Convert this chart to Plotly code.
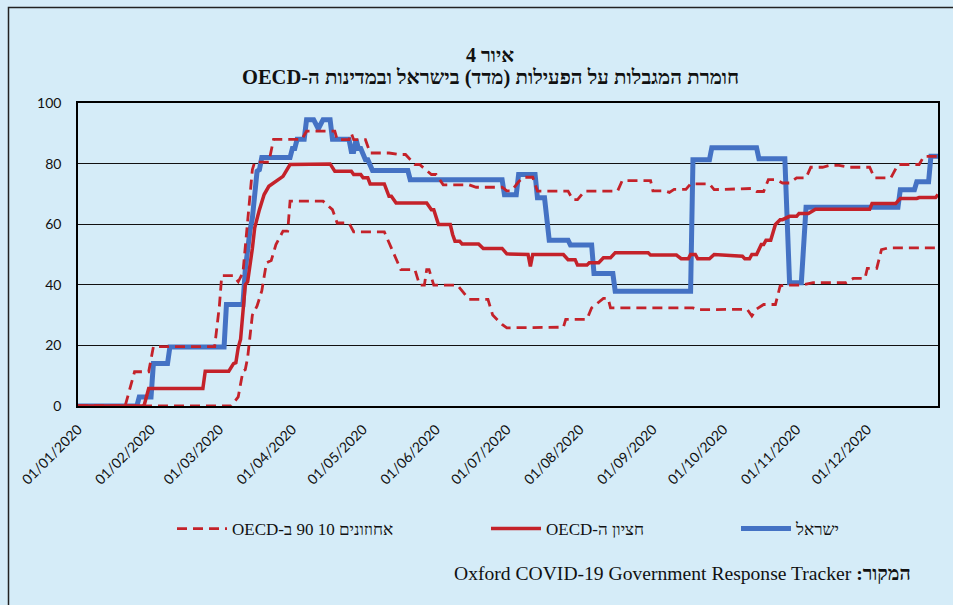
import plotly.graph_objects as go

# ---------------- data ----------------
israel_dates = ["2020-01-01","2020-01-26","2020-01-27","2020-02-01","2020-02-02","2020-02-08","2020-02-09",
    "2020-03-03","2020-03-04","2020-03-11","2020-03-12","2020-03-13","2020-03-14","2020-03-15","2020-03-16",
    "2020-03-17","2020-03-18","2020-03-19","2020-03-31","2020-04-01","2020-04-02","2020-04-03","2020-04-06",
    "2020-04-07","2020-04-10","2020-04-12","2020-04-14","2020-04-17","2020-04-18","2020-04-25","2020-04-26",
    "2020-04-27","2020-04-28","2020-04-29","2020-04-30","2020-05-02","2020-05-03","2020-05-05","2020-05-20",
    "2020-05-21","2020-06-29","2020-06-30","2020-07-05","2020-07-06","2020-07-13","2020-07-14","2020-07-17",
    "2020-07-18","2020-07-19","2020-07-27","2020-07-28","2020-08-06","2020-08-07","2020-08-15","2020-08-16",
    "2020-09-17","2020-09-18","2020-09-25","2020-09-26","2020-10-15","2020-10-16","2020-10-27","2020-10-29",
    "2020-11-03","2020-11-05","2020-12-14","2020-12-15","2020-12-21","2020-12-22","2020-12-27","2020-12-28",
    "2020-12-31"]
israel_values = [0,0,3,3,14,14,19.5,
    19.5,33.5,33.5,45,53,58,62,70,
    77.5,78,82,82,85,85,88,88,
    94.5,94.5,91.5,94.5,94.5,88,88,84,
    84,88,85,85,81.3,81.3,77.7,77.7,
    74.7,74.7,69.7,69.7,76.4,76.4,68.7,68.7,
    62,54.7,54.7,53.1,53.1,43.7,43.7,37.9,
    37.9,81.3,81.3,85.2,85.2,81.6,81.6,40.7,
    40.7,65.6,65.6,71.4,71.4,74,74,82.4,
    82.4]

median_dates = ["2020-01-01","2020-01-29","2020-01-31","2020-02-23","2020-02-24","2020-03-05","2020-03-07",
    "2020-03-08","2020-03-09","2020-03-10","2020-03-12","2020-03-13","2020-03-15","2020-03-16","2020-03-18",
    "2020-03-20","2020-03-22","2020-03-25","2020-03-28","2020-03-31","2020-04-17","2020-04-19","2020-04-26",
    "2020-04-27","2020-04-30","2020-05-01","2020-05-03","2020-05-04","2020-05-10","2020-05-12","2020-05-13",
    "2020-05-15","2020-05-28","2020-05-30","2020-05-31","2020-06-02","2020-06-07","2020-06-08","2020-06-09",
    "2020-06-11","2020-06-12","2020-06-19","2020-06-21","2020-06-29","2020-07-01","2020-07-10","2020-07-11",
    "2020-07-12","2020-07-25","2020-07-27","2020-07-30","2020-07-31","2020-08-04","2020-08-05","2020-08-09",
    "2020-08-11","2020-08-14","2020-08-16","2020-08-30","2020-08-31","2020-09-11","2020-09-13","2020-09-16",
    "2020-09-17","2020-09-19","2020-09-20","2020-09-25","2020-09-27","2020-10-09","2020-10-10","2020-10-12",
    "2020-10-13","2020-10-15","2020-10-17","2020-10-18","2020-10-19","2020-10-21","2020-10-23","2020-10-25",
    "2020-10-26","2020-10-29","2020-11-01","2020-11-02","2020-11-06","2020-11-09","2020-12-02","2020-12-03",
    "2020-12-13","2020-12-15","2020-12-22","2020-12-23","2020-12-30","2020-12-31"]
median_values = [0,0,5.8,5.8,11.5,11.5,14,
    14.3,19.3,22,40,41,52,58.8,64.8,
    69.8,72.5,74.2,75.8,79.7,79.9,77.5,77.5,
    76.4,76.4,75.3,75.3,73.3,73.3,69.2,69.2,
    67,67,64.8,64.8,59.9,59.9,56.6,54.4,
    54.4,53.5,53.5,52,52,50.2,50,46.1,
    50,50,48.3,48.3,46.5,46.5,47.3,47.3,
    48.9,48.9,50.6,50.6,49.8,49.8,48.6,48.6,
    50,50,48.6,48.6,50,49.4,48.6,48.6,
    50,50,53.3,53.3,54.7,54.7,59.9,61.5,
    61.5,62.6,62.6,63.5,63.5,64.9,64.9,66.8,
    66.8,68.5,68.5,68.8,68.8,69.8]

p90_dates = ["2020-01-01","2020-01-21","2020-01-25","2020-01-31","2020-02-02","2020-02-28","2020-03-01",
    "2020-03-02","2020-03-07","2020-03-09","2020-03-11","2020-03-13","2020-03-15","2020-03-16","2020-03-22",
    "2020-03-24","2020-04-05","2020-04-07","2020-04-19","2020-04-20","2020-04-25","2020-04-26","2020-04-27",
    "2020-05-02","2020-05-04","2020-05-12","2020-05-16","2020-05-19","2020-05-23","2020-05-25","2020-05-30",
    "2020-06-01","2020-06-04","2020-06-15","2020-06-18","2020-06-29","2020-07-01","2020-07-03","2020-07-06",
    "2020-07-08","2020-07-12","2020-07-14","2020-07-27","2020-07-29","2020-07-31","2020-08-03","2020-08-17",
    "2020-08-19","2020-08-31","2020-09-01","2020-09-06","2020-09-08","2020-09-10","2020-09-15","2020-09-17",
    "2020-09-25","2020-09-27","2020-10-13","2020-10-15","2020-10-18","2020-10-20","2020-10-23","2020-10-26",
    "2020-10-29","2020-11-01","2020-11-05","2020-11-07","2020-11-12","2020-11-15","2020-11-19","2020-11-23",
    "2020-12-02","2020-12-04","2020-12-11","2020-12-14","2020-12-23","2020-12-25","2020-12-31"]
p90_values = [0,0,11.3,11.3,19.6,19.6,33,
    43,43,41,44,60,78,80.5,80.5,
    88,88,90.7,90.7,87.9,87.9,90,87.9,
    87.9,83.5,83.5,83,83,79.7,79.7,76.4,
    76.4,73,73,72.2,72.2,71,71,74,
    75.5,75.5,70.9,70.9,68.1,68.1,70.9,70.9,
    74.4,74.4,71,71,70.5,71.5,71.5,73.3,
    73.3,71.4,71.8,70.8,70.8,74.7,74.7,73.6,
    73.6,75.3,75.3,78.8,78.8,79.4,79.4,78.8,
    78.8,75.3,75.3,79.7,79.7,82.4,82.4]

p10_dates = ["2020-01-01","2020-03-06","2020-03-09","2020-03-11","2020-03-12","2020-03-13","2020-03-15",
    "2020-03-17","2020-03-19","2020-03-21","2020-03-23","2020-03-25","2020-03-28","2020-03-30","2020-03-31",
    "2020-04-14","2020-04-18","2020-04-20","2020-04-25","2020-04-27","2020-05-10","2020-05-17","2020-05-23",
    "2020-05-25","2020-05-27","2020-05-28","2020-05-29","2020-05-31","2020-06-10","2020-06-15","2020-06-23",
    "2020-06-25","2020-06-29","2020-07-01","2020-07-25","2020-07-26","2020-08-04","2020-08-06","2020-08-11",
    "2020-08-13","2020-08-14","2020-09-18","2020-09-20","2020-09-24","2020-09-26","2020-10-11","2020-10-13",
    "2020-10-15","2020-10-18","2020-10-23","2020-10-25","2020-10-27","2020-11-03","2020-11-08","2020-11-22",
    "2020-11-25","2020-11-30","2020-12-01","2020-12-05","2020-12-07","2020-12-10","2020-12-31"]
p10_values = [0,0,3,11.5,12,16,30,
    33,38,47.3,48,53.3,57.7,57.7,67.6,
    67.6,64.8,60.4,60.4,57.5,57.5,45,45,
    39.9,39.9,45,45,39.9,39.9,35.2,35.2,
    30,26.9,25.8,26,28.6,28.6,32.4,35.5,
    35.5,32.4,32.4,31.8,31.8,32,31.9,29.7,
    32,33.5,33.5,39.6,39.9,39.9,40.7,40.7,
    42.1,42.1,45.4,45.4,51.6,52.2,52.2]

y_ticks = [0, 20, 40, 60, 80, 100]

title_line1 = "איור 4"
title_line2 = "חומרת המגבלות על הפעילות (מדד) בישראל ובמדינות ה-OECD"
name_israel = "ישראל"
name_median = "חציון ה-OECD"
name_pct = "אחוזונים 10 90 ב-OECD"
source_label = "המקור:"
source_text = "Oxford COVID-19 Government Response Tracker"

RLE, PDF = "\u202B", "\u202C"
def rtl(s):
    return RLE + s + PDF

BLUE = "#4472C4"
RED = "#C4222A"
BG = "#D5ECF8"

fig = go.Figure()
fig.add_trace(go.Scatter(x=israel_dates, y=israel_values, mode="lines", name=rtl(name_israel),
                         line=dict(color=BLUE, width=5), legend="legend3", cliponaxis=False))
fig.add_trace(go.Scatter(x=median_dates, y=median_values, mode="lines", name=rtl(name_median),
                         line=dict(color=RED, width=3.5), legend="legend2", cliponaxis=False))
fig.add_trace(go.Scatter(x=p10_dates, y=p10_values, mode="lines", name=rtl(name_pct),
                         line=dict(color=RED, width=2.8, dash="10px,6px"), legend="legend",
                         cliponaxis=False))
fig.add_trace(go.Scatter(x=p90_dates, y=p90_values, mode="lines", name=rtl(name_pct),
                         line=dict(color=RED, width=2.8, dash="10px,6px"), showlegend=False,
                         cliponaxis=False))

leg_font = dict(family="Liberation Serif", size=17, color="#111")
def leg(xpx):
    return dict(x=xpx / 953, xref="container", y=1 - 529 / 605, yref="container",
                xanchor="left", yanchor="middle", orientation="h", bgcolor="rgba(0,0,0,0)",
                font=leg_font, itemwidth=50, borderwidth=0)

fig.update_layout(
    width=953, height=605,
    margin=dict(l=78, r=15, t=103, b=199),
    paper_bgcolor=BG, plot_bgcolor=BG,
    showlegend=True,
    legend=leg(172), legend2=leg(486), legend3=leg(736),
    xaxis=dict(type="date", range=["2020-01-01", "2020-12-31"], tick0="2020-01-01", dtick="M1",
               tickformat="%d/%m/%Y", tickangle=-45, showgrid=False,
               tickfont=dict(family="Lato", size=14, color="#111"),
               showline=True, linecolor="#000", linewidth=1.5, mirror=True,
               ticks="", ticklabelstandoff=8),
    yaxis=dict(range=[0, 100], tickvals=y_ticks, showgrid=True, gridcolor="#111", gridwidth=1.2,
               zeroline=True, zerolinecolor="#000", zerolinewidth=2.5,
               tickfont=dict(family="Lato", size=14, color="#111"),
               showline=True, linecolor="#000", linewidth=1.5, mirror=True,
               ticks="", ticklabelstandoff=12),
    annotations=[
        dict(text="<b>" + rtl(title_line1) + "</b>", x=(490 - 78) / 860, y=(406 - 55) / 303,
             xref="paper", yref="paper", showarrow=False, xanchor="center", yanchor="middle",
             font=dict(family="Liberation Serif", size=20, color="#111")),
        dict(text="<b>" + rtl(title_line2) + "</b>", x=(490 - 78) / 860, y=(406 - 77) / 303,
             xref="paper", yref="paper", showarrow=False, xanchor="center", yanchor="middle",
             font=dict(family="Liberation Serif", size=20.5, color="#111")),
        dict(text=RLE + "<b>" + source_label + "</b> " + source_text + PDF,
             x=(913 - 78) / 860, y=(406 - 573) / 303, xref="paper", yref="paper",
             showarrow=False, xanchor="right", yanchor="middle",
             font=dict(family="Liberation Serif", size=19.6, color="#111")),
    ],
    shapes=[dict(type="rect", xref="paper", yref="paper",
                 x0=(8.5 - 78) / 860, x1=(965 - 78) / 860,
                 y0=(406 - 7.5) / 303, y1=(406 - 625) / 303,
                 line=dict(color="#222", width=1.5), fillcolor="rgba(0,0,0,0)", layer="below")],
)

fig.write_html("out.html", config={"displayModeBar": False},
               post_script="document.body.style.margin='0px';document.body.style.overflow='hidden';")
